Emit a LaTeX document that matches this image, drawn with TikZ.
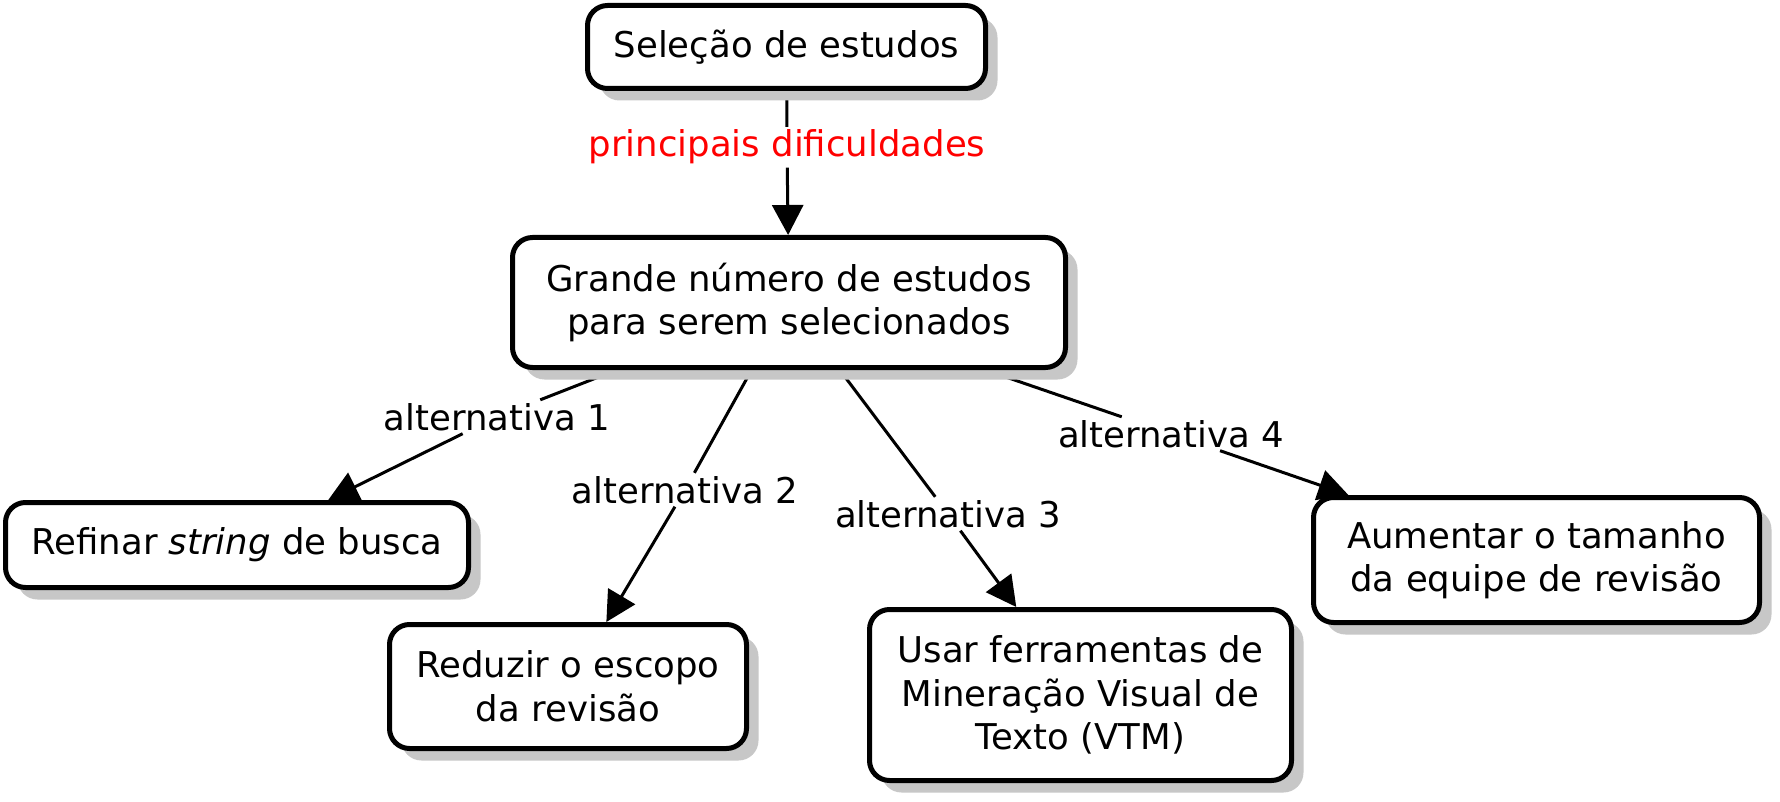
\documentclass[tikz,border=0pt]{standalone}
\usepackage{fontspec}
\setmainfont{DejaVu Sans}
\usetikzlibrary{arrows.meta,shadows}
\pgfdeclarelayer{paper}
\pgfdeclarelayer{background}
\pgfsetlayers{paper,background,main}
\tikzset{
  box/.style={draw=black, line width=5pt, rounded corners=20pt, fill=white, align=center, inner sep=0pt,
    drop shadow={shadow xshift=12pt, shadow yshift=-12pt, fill=black!22, opacity=1}},
  lab/.style={inner sep=3pt, anchor=base},
  link/.style={line width=3pt, draw=black},
  arr/.style={link, -{Triangle[length=30pt,width=31pt]}},
}
\begin{document}
\begin{tikzpicture}[x=1pt,y=-1pt, font=\fontsize{35.5}{43.5}\selectfont]
\begin{pgfonlayer}{paper}
\fill[white] (0,0) rectangle (1780,802);
\end{pgfonlayer}
\useasboundingbox (0,0) rectangle (1780,802);
\node[box, minimum width=398pt, minimum height=83pt] (b1) at (786.5,47) {Seleção de estudos};
\node[box, minimum width=553pt, minimum height=130pt] (b2) at (789,302.5) {Grande número de estudos\\para serem selecionados};
\node[box, minimum width=463pt, minimum height=85pt] (b3) at (237,545) {Refinar \textit{string} de busca};
\node[box, minimum width=357pt, minimum height=124pt] (b4) at (568,686.5) {Reduzir o escopo\\da revisão};
\node[box, minimum width=422pt, minimum height=171pt] (b5) at (1080.5,695) {Usar ferramentas de\\Mineração Visual de\\Texto (VTM)};
\node[box, minimum width=446pt, minimum height=125pt] (b6) at (1536.5,560) {Aumentar o tamanho\\da equipe de revisão};
\node[lab, text=red] (l0) at (787,157) {principais dificuldades};
\node[lab] (l1) at (497,430) {alternativa 1};
\node[lab] (l2) at (685,503) {alternativa 2};
\node[lab] (l3) at (948,527) {alternativa 3};
\node[lab] (l4) at (1171,447) {alternativa 4};
\begin{pgfonlayer}{background}
\draw[link] (b1) -- (l0);
\draw[arr] (l0) -- (b2);
\draw[link] (b2) -- (l1);
\draw[arr] (l1) -- (b3);
\draw[link] (b2) -- (l2);
\draw[arr] (l2) -- (b4);
\draw[link] (b2) -- (l3);
\draw[arr] (l3) -- (b5);
\draw[link] (b2) -- (l4);
\draw[arr] (l4) -- (b6);
\end{pgfonlayer}
\end{tikzpicture}
\end{document}
